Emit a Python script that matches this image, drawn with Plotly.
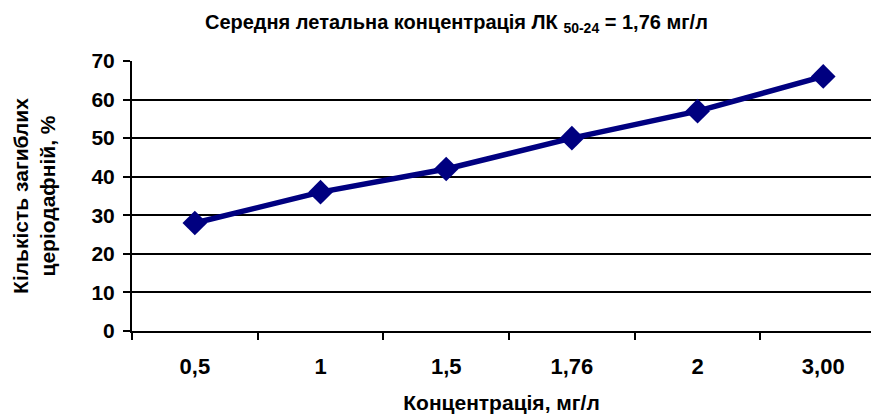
import plotly.graph_objects as go

categories = ["0,5", "1", "1,5", "1,76", "2", "3,00"]
mortality = [28, 36, 42, 50, 57, 66]
y_ticks = [0, 10, 20, 30, 40, 50, 60, 70]

FONT = "Liberation Sans, Arial, sans-serif"

fig = go.Figure()
fig.add_trace(go.Scatter(
    x=categories, y=mortality, mode="lines+markers",
    line=dict(color="#000080", width=5.5),
    marker=dict(symbol="diamond", size=19, color="#000080"),
    showlegend=False,
))

fig.update_layout(
    width=871, height=414,
    margin=dict(l=132, r=0, t=61, b=83),
    paper_bgcolor="white", plot_bgcolor="white",
    font=dict(family=FONT, color="black"),
    title=dict(text="<b>Середня летальна концентрація ЛК <sub>50-24</sub> = 1,76 мг/л</b>",
               x=0.524, xanchor="center", y=0.947, yanchor="middle",
               font=dict(size=20, family=FONT)),
    xaxis=dict(
        type="category", categoryorder="array", categoryarray=categories,
        tickson="boundaries",
        range=[-0.5, 5.38], showgrid=False, showline=True, linecolor="black", linewidth=2,
        ticks="outside", ticklen=7, tickcolor="black", tickwidth=1.5,
        ticklabelstandoff=15,
        tickfont=dict(size=22, weight="bold"), zeroline=False,
        title=dict(text="<b>Концентрація, мг/л</b>", font=dict(size=21), standoff=18),
    ),
    yaxis=dict(
        range=[0, 70], tickvals=y_ticks, ticktext=[f"<b>{v}</b>" for v in y_ticks],
        showgrid=True, gridcolor="black", gridwidth=1.5,
        showline=True, linecolor="black", linewidth=2,
        ticks="outside", ticklen=7, tickcolor="black", tickwidth=1.5,
        ticklabelstandoff=4,
        tickfont=dict(size=21), zeroline=False,
        title=dict(text="<b>Кількість загиблих<br>церіодафній, %</b>", font=dict(size=21), standoff=30),
    ),
)

fig.write_html(
    "out.html",
    config={"displayModeBar": False},
    post_script="document.body.style.margin='0';document.body.style.overflow='hidden';",
)
